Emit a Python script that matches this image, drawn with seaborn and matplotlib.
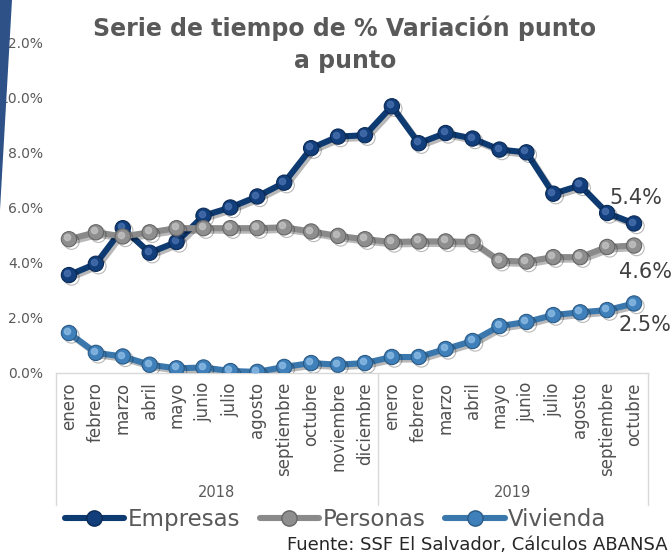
import numpy as np
import pandas as pd
import matplotlib
matplotlib.use("Agg")
import matplotlib.pyplot as plt
import matplotlib.patheffects as pe
import matplotlib.transforms as mtransforms
from matplotlib.lines import Line2D
from matplotlib.patches import Polygon
import seaborn as sns

# ---------------- data ----------------
months_2018 = ["enero", "febrero", "marzo", "abril", "mayo", "junio", "julio",
               "agosto", "septiembre", "octubre", "noviembre", "diciembre"]
months_2019 = ["enero", "febrero", "marzo", "abril", "mayo", "junio", "julio",
               "agosto", "septiembre", "octubre"]
years = ["2018", "2019"]
series_names = ["Empresas", "Personas", "Vivienda"]
empresas = [3.55, 3.96, 5.25, 4.36, 4.75, 5.70, 6.00, 6.40, 6.90, 8.15, 8.57, 8.62,
            9.67, 8.33, 8.70, 8.50, 8.10, 8.00, 6.50, 6.80, 5.80, 5.42]
personas = [4.85, 5.10, 4.95, 5.10, 5.25, 5.25, 5.25, 5.25, 5.28, 5.13, 4.97, 4.85,
            4.75, 4.77, 4.77, 4.75, 4.07, 4.04, 4.20, 4.20, 4.57, 4.62]
vivienda = [1.45, 0.73, 0.60, 0.30, 0.17, 0.20, 0.07, 0.04, 0.22, 0.36, 0.30, 0.36,
            0.58, 0.58, 0.87, 1.16, 1.70, 1.85, 2.10, 2.20, 2.28, 2.52]
y_ticks = [0, 2, 4, 6, 8, 10, 12]

# ---------------- styling ----------------
line_colors = {"Empresas": "#0e3a72", "Personas": "#8a8a8a", "Vivienda": "#3a77ac"}
face_colors = {"Empresas": "#123f7c", "Personas": "#8e8e8e", "Vivienda": "#3f80ba"}
edge_colors = {"Empresas": "#0a2a55", "Personas": "#666666", "Vivienda": "#2a5a85"}
high_colors = {"Empresas": "#4a72b0", "Personas": "#c4c4c4", "Vivienda": "#8fbde6"}

sns.set_theme(style="white")
plt.rcParams["font.family"] = ["DejaVu Sans"]

labels_x = months_2018 + months_2019
pos = list(range(len(labels_x)))
df = pd.DataFrame({
    "pos": pos * 3,
    "valor": empresas + personas + vivienda,
    "serie": [s for s in series_names for _ in pos],
})

fig = plt.figure(figsize=(6.71, 5.55), dpi=100)
ax = fig.add_axes([55.5 / 671, 1 - 373 / 555, 592 / 671, 331 / 555])

for i, name in enumerate(series_names):
    sub = df[df["serie"] == name]
    sns.lineplot(data=sub, x="pos", y="valor", ax=ax, color=line_colors[name],
                 linewidth=4.4, marker="o", markersize=11,
                 markerfacecolor=face_colors[name], markeredgecolor=edge_colors[name],
                 markeredgewidth=0.8, legend=False, zorder=3 + i)
    ln = ax.lines[-1]
    ln.set_path_effects([pe.SimpleLineShadow(offset=(1.8, -1.8), alpha=0.28, shadow_color="black"),
                         pe.Normal()])
    # sphere highlight
    off = mtransforms.ScaledTranslation(-1.4 / 72, 1.4 / 72, fig.dpi_scale_trans)
    ax.plot(sub["pos"], sub["valor"], linestyle="none", marker="o", markersize=4.5,
            color=high_colors[name], alpha=0.75, transform=ax.transData + off,
            zorder=3 + i + 0.1)

ax.set_xlim(-0.5, len(labels_x) - 0.5)
ax.set_ylim(0, 12)
ax.set_yticks(y_ticks)
ax.set_yticklabels([f"{v:.1f}%" for v in y_ticks], fontsize=10, color="#595959")
ax.set_xticks(pos)
ax.set_xticklabels(labels_x, rotation=90, fontsize=12, color="#505050",
                   ha="center", va="top")
ax.tick_params(axis="both", length=0)
ax.tick_params(axis="y", pad=9)
ax.tick_params(axis="x", pad=6.5)
ax.set_xlabel("")
ax.set_ylabel("")
for s in ["top", "right", "left"]:
    ax.spines[s].set_visible(False)
ax.spines["bottom"].set_color("#d9d9d9")
ax.spines["bottom"].set_linewidth(1)
ax.grid(False)

# multi-level category box
trans = mtransforms.blended_transform_factory(ax.transData, ax.transAxes)
n18 = len(months_2018)
for xb in [-0.5, n18 - 0.5, len(labels_x) - 0.5]:
    ax.plot([xb, xb], [0, -0.40], transform=trans, color="#d9d9d9", lw=1,
            clip_on=False, zorder=1)
ax.text((n18 - 1) / 2, -0.362, years[0], transform=trans, ha="center", va="center",
        fontsize=10.5, color="#595959")
ax.text(n18 + (len(months_2019) - 1) / 2, -0.362, years[1], transform=trans,
        ha="center", va="center", fontsize=10.5, color="#595959")

# end labels
end_offsets = {"Empresas": (1.5, 18), "Personas": (8, -19), "Vivienda": (8, -15.5)}
for name, vals in zip(series_names, [empresas, personas, vivienda]):
    ax.annotate(f"{vals[-1]:.1f}%", xy=(pos[-1], vals[-1]), xytext=end_offsets[name],
                textcoords="offset points", ha="center", va="center",
                fontsize=15, color="#404040", zorder=10)

# title
fig.text(0.514, 0.972, "Serie de tiempo de % Variación punto\na punto",
         ha="center", va="top", fontsize=17, fontweight="bold",
         color="#595959", linespacing=1.4)

# legend
handles = [Line2D([], [], color=line_colors[n], lw=4.4, marker="o", markersize=11,
                  markerfacecolor=face_colors[n], markeredgecolor=edge_colors[n])
           for n in series_names]
leg = fig.legend(handles, series_names, loc="center", bbox_to_anchor=(0.5, 0.064),
                 ncol=3, frameon=False, fontsize=16.5, handlelength=2.6,
                 handletextpad=0.15, columnspacing=0.85)
for t in leg.get_texts():
    t.set_color("#595959")

# source
fig.text(0.995, 0.018, "Fuente: SSF El Salvador, Cálculos ABANSA", ha="right",
         va="center", fontsize=13, color="#262626")

# decorative wedge
fig.patches.append(Polygon([(0, 1), (12 / 671, 1), (0, 1 - 210 / 555)],
                           closed=True, transform=fig.transFigure,
                           facecolor="#2e5287", edgecolor="none", zorder=20))

fig.savefig("out.png", dpi=100)
